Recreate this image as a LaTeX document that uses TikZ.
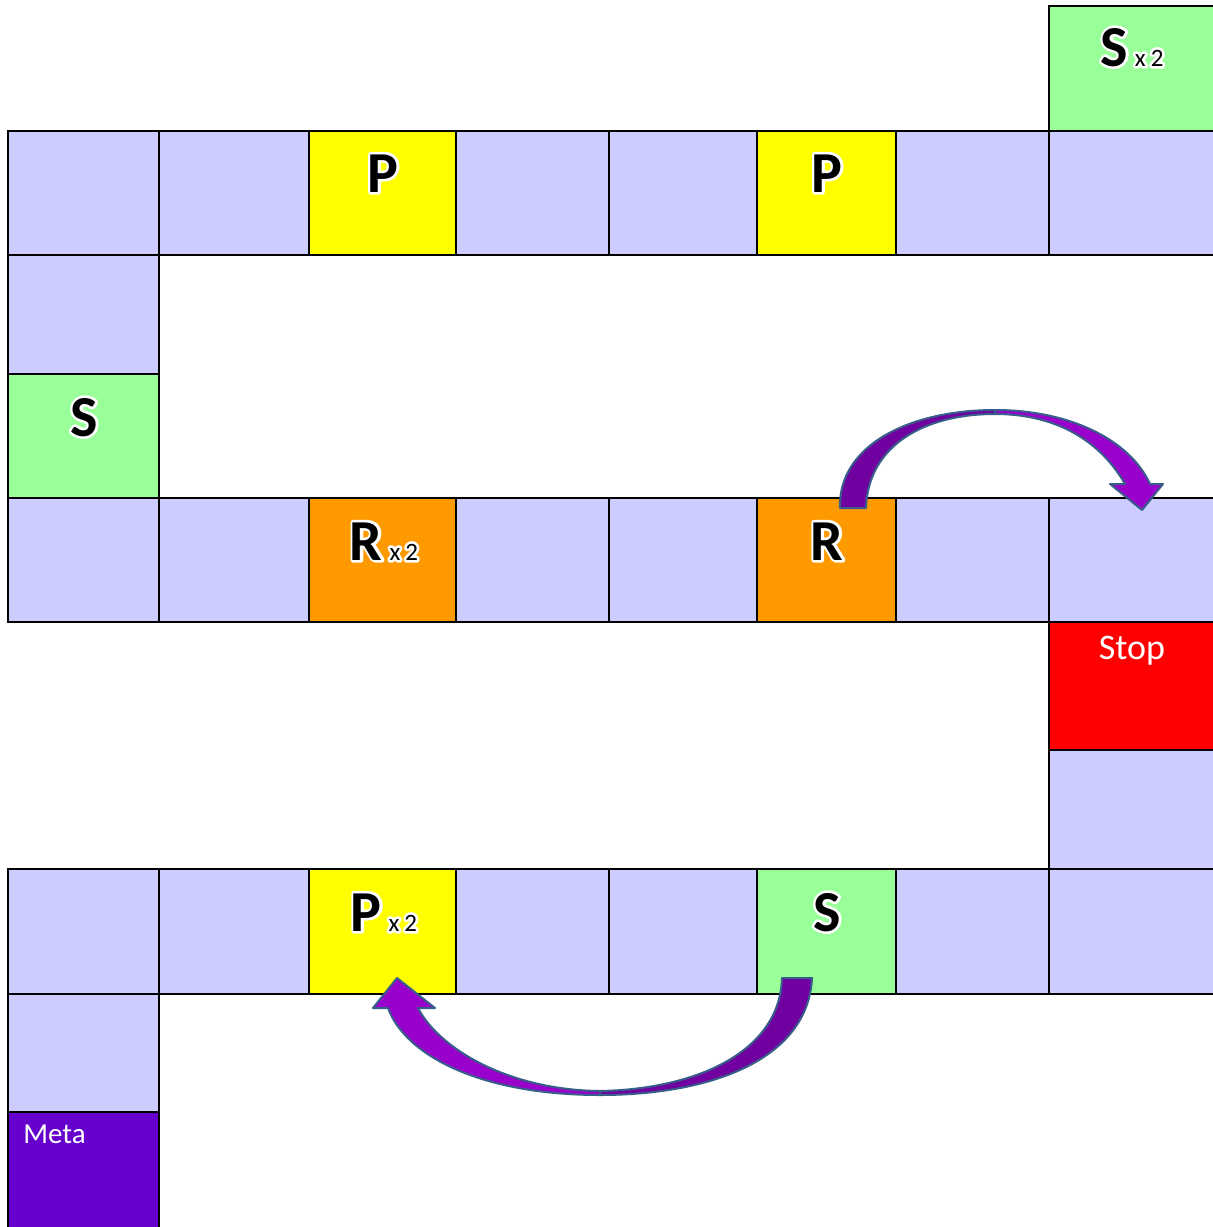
\documentclass[tikz,border=0pt]{standalone}
\usepackage{fontspec}
\setmainfont{Carlito}
\definecolor{lav}{HTML}{CCCCFF}
\definecolor{yel}{HTML}{FFFF00}
\definecolor{grn}{HTML}{99FF99}
\definecolor{org}{HTML}{FF9900}
\definecolor{stopred}{HTML}{FF0000}
\definecolor{metap}{HTML}{6600CC}
\definecolor{arrdark}{HTML}{7000A0}
\definecolor{arrlight}{HTML}{9900CC}
\definecolor{arredge}{HTML}{385D8A}
\tikzset{
  cellbox/.style={draw=black, line width=1pt, inner sep=0pt, outer sep=0pt},
  lbltext/.style={anchor=base, inner sep=0pt, text=black, font=\fontsize{29}{29}\selectfont\bfseries},
  whitetext/.style={inner sep=0pt, text=white},
  arrowpart/.style={draw=arredge, line width=1pt, line join=round},
}
\newcommand\strokeon{\special{pdf:literal direct 1 Tr 2.6 w 1 j 1 1 1 RG}}
\newcommand\strokeoff{\special{pdf:literal direct 0 Tr}}
\newcommand\cell[6]{\node[cellbox, fill=#6, minimum width={(#4-#2)*0.5pt}, minimum height={(#5-#3)*0.5pt}] (#1) at ({(#2+#4)/2},{(#3+#5)/2}) {};}
\newcommand\biglbl[4]{%
  \node[lbltext, text=white] (#1o) at (#2,#3) {\strokeon #4\strokeoff};
  \node[lbltext] (#1) at (#2,#3) {#4};}
\newcommand\xtwo{\hspace{3.5pt}{\fontsize{12.5}{12.5}\selectfont\mdseries x\hspace{2.5pt}2}}
\begin{document}
\begin{tikzpicture}[x=0.5pt,y=-0.5pt]
\useasboundingbox (0,0) rectangle (1213,1227);
% top
\cell{c0}{1049}{6}{1216}{131}{grn}
% row 1
\cell{a1}{8}{131}{159}{255}{lav}
\cell{a2}{159}{131}{309}{255}{lav}
\cell{a3}{309}{131}{456}{255}{yel}
\cell{a4}{456}{131}{609}{255}{lav}
\cell{a5}{609}{131}{757}{255}{lav}
\cell{a6}{757}{131}{896}{255}{yel}
\cell{a7}{896}{131}{1049}{255}{lav}
\cell{a8}{1049}{131}{1216}{255}{lav}
% left column
\cell{l1}{8}{255}{159}{374}{lav}
\cell{l2}{8}{374}{159}{498}{grn}
% row 3
\cell{b1}{8}{498}{159}{622}{lav}
\cell{b2}{159}{498}{309}{622}{lav}
\cell{b3}{309}{498}{456}{622}{org}
\cell{b4}{456}{498}{609}{622}{lav}
\cell{b5}{609}{498}{757}{622}{lav}
\cell{b6}{757}{498}{896}{622}{org}
\cell{b7}{896}{498}{1049}{622}{lav}
\cell{b8}{1049}{498}{1216}{622}{lav}
% right column
\cell{r1}{1049}{622}{1216}{750}{stopred}
\cell{r2}{1049}{750}{1216}{869}{lav}
% row 5
\cell{d1}{8}{869}{159}{994}{lav}
\cell{d2}{159}{869}{309}{994}{lav}
\cell{d3}{309}{869}{456}{994}{yel}
\cell{d4}{456}{869}{609}{994}{lav}
\cell{d5}{609}{869}{757}{994}{lav}
\cell{d6}{757}{869}{896}{994}{grn}
\cell{d7}{896}{869}{1049}{994}{lav}
\cell{d8}{1049}{869}{1216}{994}{lav}
% bottom left
\cell{m1}{8}{994}{159}{1112}{lav}
\cell{m2}{8}{1112}{159}{1240}{metap}
% labels
\biglbl{t0}{1132}{66}{S\xtwo}
\biglbl{t3}{383}{192}{P}
\biglbl{t6}{827}{192}{P}
\biglbl{tl}{84}{436}{S}
\biglbl{tb3}{384}{560}{R\xtwo}
\biglbl{tb6}{827}{560}{R}
\biglbl{td3}{384}{931}{P\xtwo}
\biglbl{td6}{827}{931}{S}
\node[whitetext, anchor=base, font=\fontsize{18}{18}\selectfont] (tstop) at (1132,659) {Stop};
\node[whitetext, anchor=base west, font=\fontsize{14.5}{14.5}\selectfont] (tmeta) at (23,1143) {Meta};
% upper arrow (R -> right cell)
\filldraw[arrowpart, fill=arrdark] (840,508) .. controls (838,445) and (910,410) .. (995,410)
  -- (995,414) .. controls (925,414) and (868,445) .. (866,508) -- cycle;
\filldraw[arrowpart, fill=arrlight] (995,410) .. controls (1070,410) and (1130,440) .. (1150,484)
  -- (1163,484) -- (1142,510) -- (1110,484) -- (1125,484)
  .. controls (1102,444) and (1060,414) .. (995,414) -- cycle;
% lower arrow (S -> P x2)
\filldraw[arrowpart, fill=arrdark] (812,978) .. controls (808,1060) and (710,1095) .. (600,1095)
  -- (600,1091) .. controls (700,1089) and (780,1050) .. (782,978) -- cycle;
\filldraw[arrowpart, fill=arrlight] (600,1095) .. controls (480,1095) and (405,1055) .. (388,1008)
  -- (373,1008) -- (397,978) -- (435,1008) -- (418,1008)
  .. controls (440,1050) and (510,1090) .. (600,1091) -- cycle;
\end{tikzpicture}
\end{document}
